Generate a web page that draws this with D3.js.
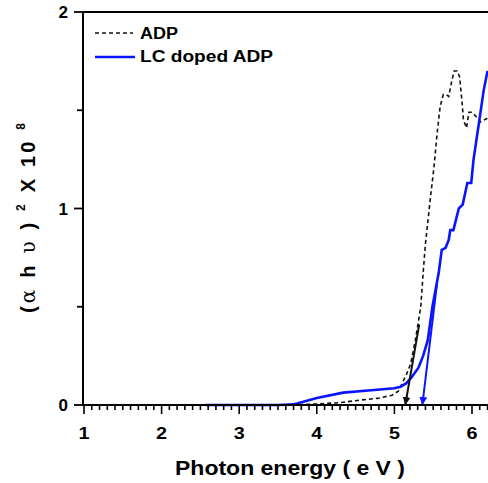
<!DOCTYPE html>
<html><head><meta charset="utf-8">
<script src="https://cdn.jsdelivr.net/npm/d3@7"></script>
<style>body{margin:0;background:#fff}svg{display:block}</style>
</head><body>
<script>
// Data
const adpX = [2.6, 3.5, 4.0, 4.3, 4.56, 4.8, 4.97, 5.05, 5.10, 5.16, 5.21, 5.27, 5.34, 5.37, 5.40, 5.46, 5.51, 5.55, 5.59, 5.63, 5.67, 5.70, 5.74, 5.77, 5.81, 5.84, 5.87, 5.89, 5.93, 5.96, 6.0, 6.07, 6.11, 6.2];
const adpY = [0, 0, 0.005, 0.012, 0.025, 0.035, 0.05, 0.07, 0.11, 0.16, 0.21, 0.33, 0.5, 0.67, 0.82, 1.04, 1.21, 1.38, 1.52, 1.58, 1.58, 1.57, 1.65, 1.70, 1.70, 1.67, 1.55, 1.45, 1.41, 1.49, 1.49, 1.46, 1.44, 1.46];
const lcX = [2.56, 3.0, 3.5, 3.7, 4.0, 4.34, 4.7, 5.0, 5.08, 5.15, 5.22, 5.31, 5.37, 5.43, 5.49, 5.57, 5.61, 5.66, 5.70, 5.72, 5.76, 5.83, 5.88, 5.94, 5.99, 6.02, 6.08, 6.15, 6.2];
const lcY = [0, 0, 0, 0.003, 0.036, 0.063, 0.075, 0.085, 0.093, 0.11, 0.14, 0.19, 0.25, 0.33, 0.5, 0.67, 0.79, 0.80, 0.84, 0.89, 0.89, 1.0, 1.02, 1.13, 1.13, 1.25, 1.41, 1.6, 1.70];
const adpTangent = [[5.14, 0], [5.32, 0.41]];
const lcTangent = [[5.36, 0], [5.55, 0.62]];
const xTicks = [1, 2, 3, 4, 5, 6];
const yTicks = [0, 1, 2];
const legendLabels = ["ADP", "LC doped ADP"];

const W = 488, H = 483;
const svg = d3.select("body").append("svg").attr("width", W).attr("height", H);
const x = d3.scaleLinear().domain([1, 6.3]).range([84, 84 + 5.3 * 77.6]);
const y = d3.scaleLinear().domain([0, 2]).range([405, 12]);
const font = "Liberation Sans, Arial, sans-serif";

// curves
const line = d3.line().x(d => x(d[0])).y(d => y(d[1]));
const adp = adpX.map((v, i) => [v, adpY[i]]);
const lc = lcX.map((v, i) => [v, lcY[i]]);
svg.append("path").datum(adp).attr("d", line).attr("fill", "none")
  .attr("stroke", "#111").attr("stroke-width", 1.6).attr("stroke-dasharray", "4,3");
svg.append("path").datum(lc).attr("d", line).attr("fill", "none")
  .attr("stroke", "#0a14ff").attr("stroke-width", 2.6);

// tangent arrows
const defs = svg.append("defs");
[["ah-k", "#111"], ["ah-b", "#0a14ff"]].forEach(([id, c]) => {
  defs.append("marker").attr("id", id).attr("viewBox", "0 0 10 10").attr("refX", 10).attr("refY", 5)
    .attr("markerWidth", 4).attr("markerHeight", 5).attr("orient", "auto-start-reverse")
    .attr("markerUnits", "strokeWidth")
    .append("path").attr("d", "M0,0 L10,5 L0,10 z").attr("fill", c);
});
svg.append("path").datum(adpTangent).attr("d", line).attr("stroke", "#111").attr("stroke-width", 2)
  .attr("marker-start", "url(#ah-k)");
svg.append("path").datum(lcTangent).attr("d", line).attr("stroke", "#0a14ff").attr("stroke-width", 2)
  .attr("marker-start", "url(#ah-b)");

// axes
const ax = svg.append("g").attr("stroke", "#000").attr("stroke-width", 2).attr("fill", "none");
ax.append("line").attr("x1", 83).attr("x2", W).attr("y1", y(0)).attr("y2", y(0));
ax.append("line").attr("x1", 83).attr("x2", 83).attr("y1", y(2)).attr("y2", y(0) + 1);
ax.append("line").attr("x1", 83).attr("x2", W).attr("y1", y(2)).attr("y2", y(2));

const minor = d3.range(10, 63).map(v => v / 10);
svg.append("g").selectAll("line").data(minor).join("line")
  .attr("x1", d => x(d)).attr("x2", d => x(d)).attr("y1", y(0))
  .attr("y2", d => y(0) + (Math.abs(d - Math.round(d)) < 1e-6 ? 9 : 5))
  .attr("stroke", "#000").attr("stroke-width", 1.6);
svg.append("g").selectAll("line").data([0, 0.5, 1, 1.5, 2]).join("line")
  .attr("x1", d => 83 - (Number.isInteger(d) ? 9 : 6)).attr("x2", d => d === 0 ? 91 : 83)
  .attr("y1", d => y(d)).attr("y2", d => y(d)).attr("stroke", "#000").attr("stroke-width", 1.8);

svg.append("g").selectAll("text").data(xTicks).join("text")
  .attr("x", d => x(d)).attr("y", 439).attr("text-anchor", "middle")
  .attr("font-family", font).attr("font-weight", "bold").attr("font-size", 17)
  .attr("textLength", 11).attr("lengthAdjust", "spacingAndGlyphs").text(d => d);
svg.append("g").selectAll("text").data(yTicks).join("text")
  .attr("x", 68).attr("y", d => y(d) + 6).attr("text-anchor", "end")
  .attr("font-family", font).attr("font-weight", "bold").attr("font-size", 17).text(d => d);

svg.append("text").attr("x", 290).attr("y", 475).attr("text-anchor", "middle")
  .attr("font-family", font).attr("font-weight", "bold").attr("font-size", 20)
  .attr("textLength", 230).attr("lengthAdjust", "spacingAndGlyphs")
  .text("Photon energy ( e V )");

const yt = svg.append("text").attr("transform", "translate(35,218) rotate(-90)").attr("text-anchor", "middle")
  .attr("font-family", font).attr("font-weight", "bold").attr("font-size", 20)
  .attr("textLength", 190).attr("lengthAdjust", "spacing");
yt.append("tspan").text("(");
yt.append("tspan").attr("font-family", "DejaVu Serif, serif").attr("font-weight", "normal").text("α");
yt.append("tspan").text(" h ");
yt.append("tspan").attr("font-family", "DejaVu Serif, serif").attr("font-weight", "normal").text("υ");
yt.append("tspan").text(" ) ");
yt.append("tspan").attr("font-size", 12).attr("dy", -10).text("2");
yt.append("tspan").attr("dy", 10).text(" X 10 ");
yt.append("tspan").attr("font-size", 12).attr("dy", -10).text("8");

// legend
const lg = svg.append("g");
lg.append("line").attr("x1", 95).attr("x2", 133).attr("y1", 33).attr("y2", 33)
  .attr("stroke", "#111").attr("stroke-width", 1.6).attr("stroke-dasharray", "4,3");
lg.append("line").attr("x1", 95).attr("x2", 135).attr("y1", 57).attr("y2", 57)
  .attr("stroke", "#0a14ff").attr("stroke-width", 2.6);
lg.selectAll("text").data(legendLabels).join("text")
  .attr("x", 140).attr("y", (d, i) => 39 + i * 23)
  .attr("font-family", font).attr("font-weight", "bold").attr("font-size", 16)
  .attr("textLength", (d, i) => [38, 133][i]).attr("lengthAdjust", "spacingAndGlyphs").text(d => d);
</script>
</body></html>
